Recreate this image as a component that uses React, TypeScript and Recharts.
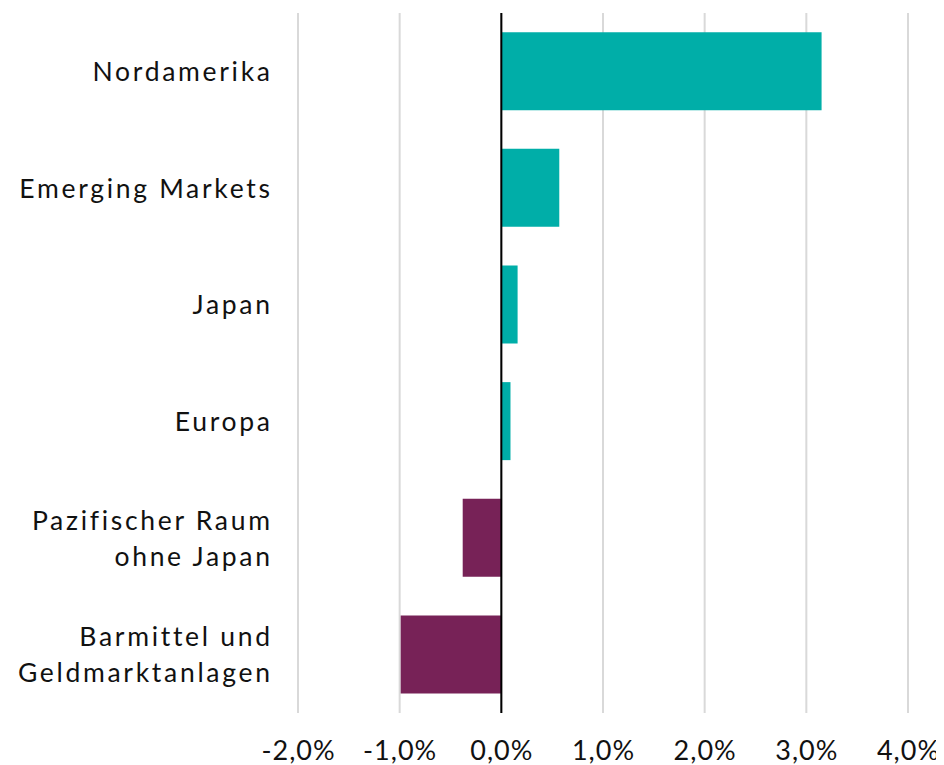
import React from "react";
import { BarChart, Bar, XAxis, YAxis, CartesianGrid, ReferenceLine, Cell } from "recharts";

const categories = [
  "Nordamerika",
  "Emerging Markets",
  "Japan",
  "Europa",
  "Pazifischer Raum\nohne Japan",
  "Barmittel und\nGeldmarktanlagen",
];
const values = [3.15, 0.57, 0.16, 0.09, -0.38, -0.99];
const xTicks = [-2, -1, 0, 1, 2, 3, 4];

const POS = "#00AEA8";
const NEG = "#772257";
const FONT = "Lato, 'Open Sans', sans-serif";
const LS = 2.7;

const data = categories.map((c, i) => ({ name: c, value: values[i] }));

const fmt = (v: number) => v.toFixed(1).replace(".", ",") + "%";

const YTick = (props: any) => {
  const { x, y, payload } = props;
  const lines = String(payload.value).split("\n");
  const lh = 36;
  const start = -((lines.length - 1) * lh) / 2;
  const tx = x - 28 + LS;
  return (
    <text
      x={tx}
      y={y}
      textAnchor="end"
      fontFamily={FONT}
      fontSize={26.5}
      fontWeight={400}
      letterSpacing={LS}
      fill="#111"
    >
      {lines.map((l, i) => (
        <tspan key={i} x={tx} y={y + start + i * lh + 9.5}>
          {l}
        </tspan>
      ))}
    </text>
  );
};

const XTick = (props: any) => {
  const { x, y, payload } = props;
  return (
    <text
      x={x + 0.5}
      y={y + 47}
      textAnchor="middle"
      fontFamily={FONT}
      fontSize={27}
      fontWeight={400}
      letterSpacing={1}
      fill="#111"
    >
      {fmt(payload.value)}
    </text>
  );
};

export default function App() {
  return (
    <BarChart
      width={936}
      height={757}
      data={data}
      layout="vertical"
      margin={{ top: 5, right: 36, bottom: 0, left: 0 }}
      barCategoryGap="16.4%"
    >
      <CartesianGrid horizontal={false} stroke="#d9d9d9" strokeWidth={2} />
      <XAxis
        type="number"
        domain={[-2, 4]}
        ticks={xTicks}
        axisLine={false}
        tickLine={false}
        tickSize={0}
        tickMargin={0}
        height={52}
        tick={<XTick />}
        interval={0}
      />
      <YAxis
        type="category"
        dataKey="name"
        width={290}
        axisLine={false}
        tickLine={false}
        tickSize={0}
        tickMargin={0}
        tick={<YTick />}
        interval={0}
      />
      <Bar dataKey="value" isAnimationActive={false}>
        {data.map((d, i) => (
          <Cell key={i} fill={d.value >= 0 ? POS : NEG} />
        ))}
      </Bar>
      <ReferenceLine x={0} stroke="#000" strokeWidth={2} />
    </BarChart>
  );
}
